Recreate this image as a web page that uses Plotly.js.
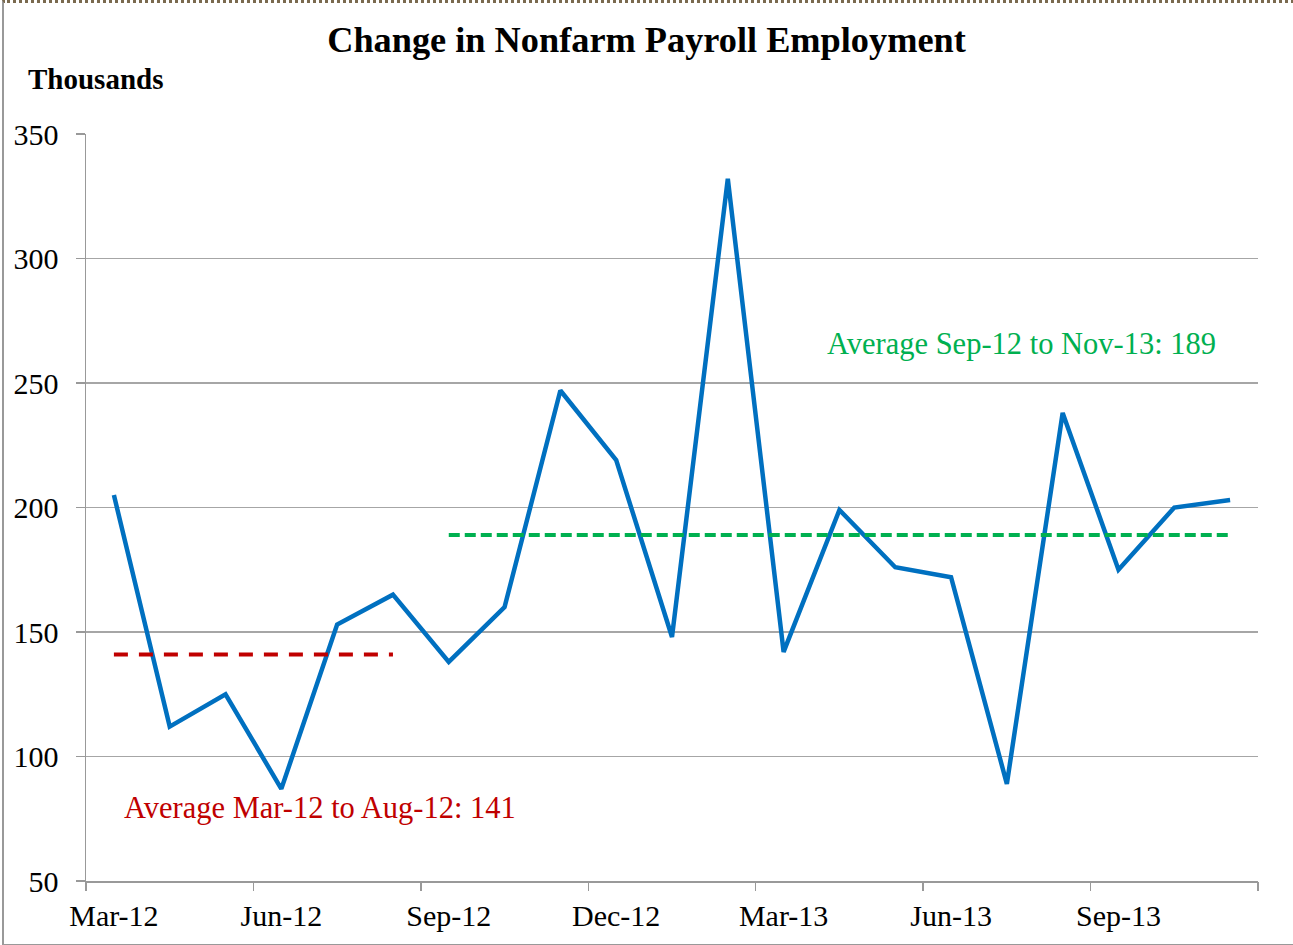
<!DOCTYPE html>
<html>
<head>
<meta charset="utf-8">
<script src="https://cdn.plot.ly/plotly-3.0.1.min.js"></script>
<style>
body{margin:0;padding:0;background:#fff;}
#wrap{position:relative;width:1293px;height:945px;}
#chart{width:1293px;height:945px;}
#frame{position:absolute;left:2px;top:0;width:1290px;height:941px;border-left:2px solid #999;border-bottom:2px solid #999;border-top:3px dotted #7a6a4f;pointer-events:none;}
</style>
</head>
<body>
<div id="wrap"><div id="chart"></div><div id="frame"></div></div>
<script>
const months = ["Mar-12","Apr-12","May-12","Jun-12","Jul-12","Aug-12","Sep-12","Oct-12","Nov-12","Dec-12",
  "Jan-13","Feb-13","Mar-13","Apr-13","May-13","Jun-13","Jul-13","Aug-13","Sep-13","Oct-13","Nov-13"];
const payrollChange = [205,112,125,87,153,165,138,160,247,219,148,332,142,199,176,172,89,238,175,200,203];
const earlyMonths = months.slice(0,6);
const earlyAvg = [141,141,141,141,141,141];
const lateMonths = months.slice(6);
const lateAvg = lateMonths.map(()=>189);
const tickLabels = ["Mar-12","Jun-12","Sep-12","Dec-12","Mar-13","Jun-13","Sep-13"];
const yTicks = [50,100,150,200,250,300,350];
const earlyLabel = "Average Mar-12 to Aug-12: 141";
const lateLabel = "Average Sep-12 to Nov-13: 189";

const serif = "Liberation Serif, Times New Roman, serif";
const boundaries = [];
for (let i = 0; i <= months.length; i += 3) boundaries.push(i - 0.5);
boundaries.push(months.length - 0.5);

const traces = [
  {x: months, y: payrollChange, type:"scatter", mode:"lines", line:{color:"#0070C0", width:4.5}},
  {x: earlyMonths, y: earlyAvg, type:"scatter", mode:"lines", line:{color:"#C00000", width:4, dash:"14px,11px"}},
  {x: lateMonths, y: lateAvg, type:"scatter", mode:"lines", line:{color:"#00B050", width:4, dash:"11px,5px"}},
  {x:[0], y:[null], xaxis:"x2", type:"scatter", mode:"lines", showlegend:false}
];

const layout = {
  width:1293, height:945,
  margin:{l:86, r:35, t:134, b:64},
  paper_bgcolor:"#fff", plot_bgcolor:"#fff",
  showlegend:false,
  font:{family:serif, color:"#000", size:30},
  title:{text:"<b>Change in Nonfarm Payroll Employment</b>", x:0.5, xanchor:"center", y:0.958, yanchor:"middle", font:{family:serif, size:36.3, color:"#000"}},
  xaxis:{type:"category", categoryorder:"array", categoryarray:months, range:[-0.5, months.length-0.5],
    tickmode:"array", tickvals:tickLabels, ticktext:tickLabels, ticks:"", showgrid:false, zeroline:false,
    showline:true, linecolor:"#999", linewidth:1.5, tickfont:{family:serif, size:30}, ticklabelstandoff:7},
  xaxis2:{overlaying:"x", range:[-0.5, months.length-0.5], tickmode:"array", tickvals:boundaries,
    showticklabels:false, ticks:"outside", ticklen:9, tickcolor:"#999", tickwidth:1.5, showgrid:false, zeroline:false, side:"bottom", anchor:"y"},
  yaxis:{range:[50,350], tickmode:"array", tickvals:yTicks, ticks:"outside", ticklen:9, tickcolor:"#999", tickwidth:1.5,
    showgrid:true, gridcolor:"#a6a6a6", gridwidth:1.2, showline:true, linecolor:"#999", linewidth:1.5, zeroline:false,
    tickfont:{family:serif, size:30}, ticklabelstandoff:11},
  annotations:[
    {xref:"paper", yref:"paper", x:-0.051, y:1.073, xanchor:"left", yanchor:"middle", showarrow:false,
     text:"<b>Thousands</b>", font:{family:serif, size:29, color:"#000"}},
    {xref:"x", yref:"y", x:3.69, y:79.3, xanchor:"center", yanchor:"middle", showarrow:false,
     text:earlyLabel, font:{family:serif, size:30.5, color:"#C00000"}},
    {xref:"x", yref:"y", x:16.27, y:265.7, xanchor:"center", yanchor:"middle", showarrow:false,
     text:lateLabel, font:{family:serif, size:30.5, color:"#00B050"}}
  ]
};
Plotly.newPlot("chart", traces, layout, {displayModeBar:false, staticPlot:true});
</script>
</body>
</html>
